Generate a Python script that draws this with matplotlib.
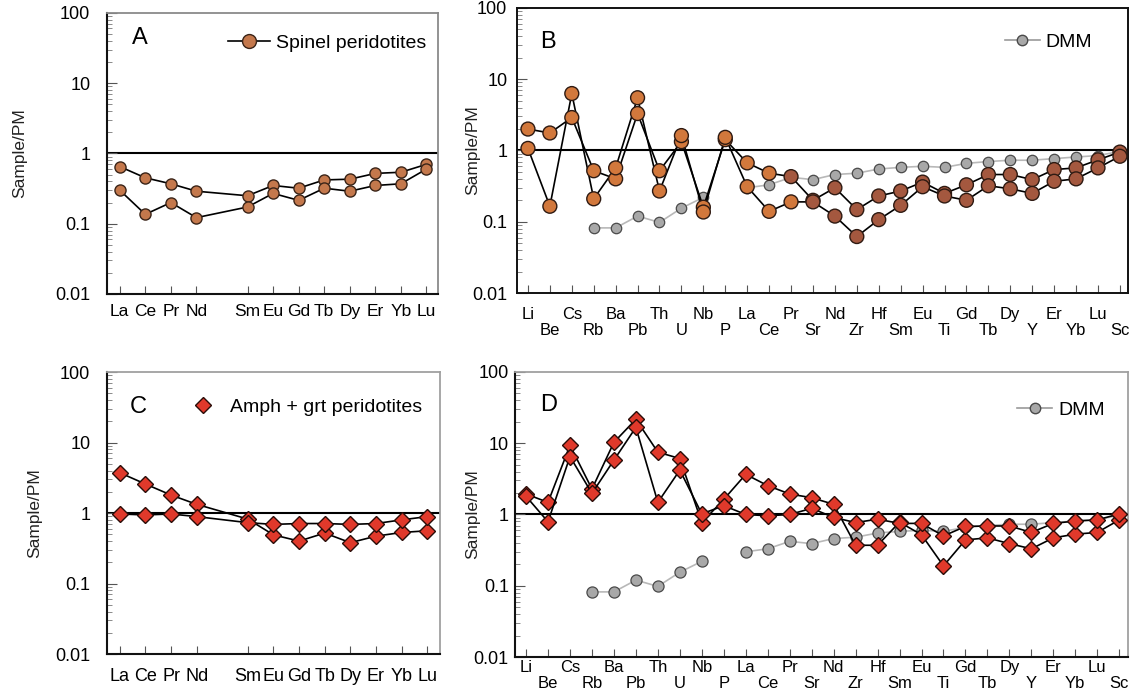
import numpy as np
import matplotlib.pyplot as plt
from matplotlib.lines import Line2D
from matplotlib.ticker import LogLocator, NullFormatter

plt.rcParams['font.family'] = ['Liberation Sans', 'DejaVu Sans']

# REE slots (Pm is an empty slot, no data, no tick)
ree_slots = ['La', 'Ce', 'Pr', 'Nd', 'Pm', 'Sm', 'Eu', 'Gd', 'Tb', 'Dy', 'Er', 'Yb', 'Lu']
ree = [el for el in ree_slots if el != 'Pm']

# extended spider diagram elements
spider = ['Li', 'Be', 'Cs', 'Rb', 'Ba', 'Pb', 'Th', 'U', 'Nb', 'P', 'La', 'Ce', 'Pr', 'Sr',
          'Nd', 'Zr', 'Hf', 'Sm', 'Eu', 'Ti', 'Gd', 'Tb', 'Dy', 'Y', 'Er', 'Yb', 'Lu', 'Sc']

# A - spinel peridotites, REE / PM
spinel_ree_1 = [0.65, 0.45, 0.37, 0.29, 0.25, 0.35, 0.32, 0.42, 0.43, 0.52, 0.54, 0.70]
spinel_ree_2 = [0.30, 0.136, 0.20, 0.122, 0.173, 0.27, 0.215, 0.32, 0.29, 0.35, 0.37, 0.60]

# B - spinel peridotites, trace elements / PM
spinel_tr_1 = [2.0, 1.76, 2.9, 0.52, 0.40, 3.3, 0.52, 1.33, 0.16, 1.42, 0.67, 0.48, 0.43, 0.20,
               0.30, 0.148, 0.23, 0.27, 0.36, 0.25, 0.33, 0.46, 0.46, 0.39, 0.54, 0.57, 0.74, 0.95]
spinel_tr_2 = [1.07, 0.165, 6.3, 0.21, 0.57, 5.5, 0.27, 1.62, 0.137, 1.53, 0.31, 0.14, 0.19, 0.19,
               0.12, 0.062, 0.107, 0.17, 0.31, 0.23, 0.20, 0.32, 0.29, 0.25, 0.37, 0.40, 0.57, 0.83]

# C - amph + grt peridotites, REE / PM
amph_ree_1 = [3.73, 2.58, 1.80, 1.33, 0.82, 0.49, 0.40, 0.52, 0.38, 0.47, 0.53, 0.56]
amph_ree_2 = [0.97, 0.94, 0.97, 0.89, 0.73, 0.69, 0.71, 0.71, 0.69, 0.71, 0.80, 0.89]

# D - amph + grt peridotites, trace elements / PM
amph_tr_1 = [1.94, 1.48, 9.35, 2.28, 10.3, 21.7, 7.5, 6.1, 0.77, 1.63, 3.66, 2.54, 1.94, 1.72,
             1.39, 0.37, 0.37, 0.78, 0.52, 0.19, 0.44, 0.47, 0.39, 0.33, 0.47, 0.53, 0.56, 0.84]
amph_tr_2 = [1.80, 0.79, 6.5, 1.98, 5.8, 16.7, 1.48, 4.2, 1.02, 1.33, 1.0, 0.96, 1.0, 1.22,
             0.91, 0.77, 0.86, 0.75, 0.75, 0.50, 0.68, 0.69, 0.69, 0.56, 0.75, 0.81, 0.84, 1.02]

# DMM (no value for Li, Be, Cs, P)
dmm = [np.nan, np.nan, np.nan, 0.082, 0.082, 0.12, 0.098, 0.155, 0.22, np.nan, 0.30, 0.33, 0.42, 0.39,
       0.46, 0.48, 0.55, 0.58, 0.60, 0.58, 0.66, 0.70, 0.73, 0.73, 0.77, 0.81, 0.85, 0.97]

ORANGE = '#d2783c'
BROWN = '#a4583f'
SPINEL = '#c4784c'
RED = '#e0392b'
GREY = '#a8a8a8'

fig = plt.figure(figsize=(11.32, 6.94), dpi=100)
axA = fig.add_axes([0.0945, 0.5764, 0.2924, 0.405])
axB = fig.add_axes([0.4567, 0.5778, 0.5398, 0.4107])
axC = fig.add_axes([0.0945, 0.0576, 0.2942, 0.4063])
axD = fig.add_axes([0.4550, 0.0533, 0.5415, 0.4107])


def setup(ax, ypad, ylab_x, frame_col):
    ax.set_yscale('log')
    ax.set_ylim(0.01, 100)
    ax.set_yticks([0.01, 0.1, 1, 10, 100])
    ax.set_yticklabels(['0.01', '0.1', '1', '10', '100'])
    ax.yaxis.set_minor_locator(LogLocator(base=10, subs=np.arange(2, 10)))
    ax.yaxis.set_minor_formatter(NullFormatter())
    ax.tick_params(axis='y', which='major', direction='in', length=7, width=0.8,
                   labelsize=13, pad=ypad, color='#555555')
    ax.tick_params(axis='y', which='minor', direction='in', length=3.5, width=0.6, color='#777777')
    ax.tick_params(axis='x', which='both', direction='in', length=6, width=0.8, color='#555555')
    ax.axhline(1, color='k', lw=1.5, zorder=1)
    ax.set_ylabel('Sample/PM', fontsize=12.5, color='#222222')
    ax.yaxis.set_label_coords(ylab_x, 0.5)
    for s in ['left', 'bottom']:
        ax.spines[s].set_linewidth(1.5)
        ax.spines[s].set_color('#111111')
    for s in ['top', 'right']:
        ax.spines[s].set_linewidth(1.3)
        ax.spines[s].set_color(frame_col)


# REE x positions skip the Pm slot
ree_x = [i for i, el in enumerate(ree_slots) if el != 'Pm']
sp_x = np.arange(len(spider))
sp_labels = [el if i % 2 == 0 else '\n' + el for i, el in enumerate(spider)]

# ---- A ----
setup(axA, 12, -0.242, '#8a8a8a')
for vals in [spinel_ree_1, spinel_ree_2]:
    axA.plot(ree_x, vals, color='k', lw=1.2, marker='o', ms=8, mfc=SPINEL, mec='#3a2418',
             mew=1.0, zorder=3)
axA.set_xlim(-0.5, 12.45)
axA.set_xticks(ree_x)
axA.set_xticklabels(ree, fontsize=12.5)
axA.tick_params(axis='x', pad=7)
axA.text(0.10, 0.91, 'A', transform=axA.transAxes, fontsize=17, ha='center', va='center')
hA = Line2D([], [], color='k', lw=1.2, marker='o', ms=10, mfc=SPINEL, mec='#3a2418')
axA.legend([hA], ['Spinel peridotites'], loc='center right', bbox_to_anchor=(0.965, 0.893),
           frameon=False, fontsize=14, borderpad=0, borderaxespad=0, handlelength=2.2,
           handletextpad=0.3)


# ---- B ----
setup(axB, 7, -0.061, '#111111')
axB.plot(sp_x, dmm, color='#b8b8b8', lw=1.2, marker='o', ms=7.5, mfc=GREY, mec='#4a4a4a',
         mew=0.9, zorder=2)
# marker colour changes from orange to brown across the diagram
for vals, ncol in [(spinel_tr_1, 12), (spinel_tr_2, 13)]:
    axB.plot(sp_x, vals, color='k', lw=1.2, zorder=3)
    cols = [ORANGE if i < ncol else BROWN for i in range(len(spider))]
    axB.scatter(sp_x, vals, s=100, c=cols, edgecolors='#2e1a12', linewidths=1.0, zorder=4)
axB.set_xlim(-0.5, 27.37)
axB.set_xticks(sp_x)
axB.set_xticklabels(sp_labels, fontsize=12, linespacing=1.1)
axB.tick_params(axis='x', pad=10)
axB.text(0.051, 0.88, 'B', transform=axB.transAxes, fontsize=17, ha='center', va='center')
hB = Line2D([], [], color='#9a9a9a', lw=1.2, marker='o', ms=7.5, mfc=GREY, mec='#4a4a4a')
axB.legend([hB], ['DMM'], loc='center right', bbox_to_anchor=(0.941, 0.88),
           frameon=False, fontsize=14, borderpad=0, borderaxespad=0, handlelength=1.8,
           handletextpad=0.3)
for sp in axB.spines.values():
    sp.set_linewidth(1.4)


# ---- C ----
setup(axC, 12, -0.195, '#a0a0a0')
for vals in [amph_ree_1, amph_ree_2]:
    axC.plot(ree_x, vals, color='k', lw=1.2, marker='D', ms=8, mfc=RED, mec='#2a0c08',
             mew=1.0, zorder=3)
axC.set_xlim(-0.5, 12.5)
axC.set_xticks(ree_x)
axC.set_xticklabels(ree, fontsize=13)
axC.tick_params(axis='x', pad=10)
axC.text(0.093, 0.876, 'C', transform=axC.transAxes, fontsize=17, ha='center', va='center')
hC = Line2D([], [], ls='none', marker='D', ms=8, mfc=RED, mec='#2a0c08')
axC.legend([hC], ['Amph + grt peridotites'], loc='center right', bbox_to_anchor=(0.946, 0.876),
           frameon=False, fontsize=14, borderpad=0, borderaxespad=0, handlelength=1.0,
           handletextpad=0.9)


# ---- D ----
setup(axD, 4.5, -0.057, '#a0a0a0')
axD.plot(sp_x, dmm, color='#b8b8b8', lw=1.2, marker='o', ms=8, mfc=GREY, mec='#4a4a4a',
         mew=0.9, zorder=2)
for vals in [amph_tr_1, amph_tr_2]:
    axD.plot(sp_x, vals, color='k', lw=1.2, marker='D', ms=8, mfc=RED, mec='#2a0c08',
             mew=1.0, zorder=3)
axD.set_xlim(-0.5, 27.4)
axD.set_xticks(sp_x)
axD.set_xticklabels(sp_labels, fontsize=12, linespacing=1.1)
axD.tick_params(axis='x', pad=2)
axD.text(0.054, 0.884, 'D', transform=axD.transAxes, fontsize=17, ha='center', va='center')
hD = Line2D([], [], color='#9a9a9a', lw=1.2, marker='o', ms=7.5, mfc=GREY, mec='#4a4a4a')
axD.legend([hD], ['DMM'], loc='center right', bbox_to_anchor=(0.962, 0.867),
           frameon=False, fontsize=14, borderpad=0, borderaxespad=0, handlelength=1.8,
           handletextpad=0.3)

fig.savefig('out.png', dpi=100)
